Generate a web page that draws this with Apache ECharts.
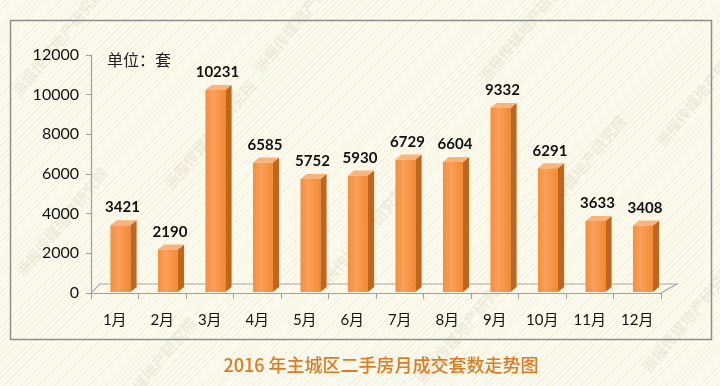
<!DOCTYPE html>
<html><head><meta charset="utf-8">
<script src="https://cdn.jsdelivr.net/npm/echarts@6/dist/echarts.min.js"></script>
<style>
html,body{margin:0;padding:0;width:720px;height:386px;overflow:hidden;
background:#fdfbee repeating-linear-gradient(135deg,#fdfbee 0px,#fdfbee 3px,#f4f1de 3px,#f4f1de 4px);}
#c{width:720px;height:386px;}
</style></head><body><div id="c"></div>
<script>
const categories = ['1月','2月','3月','4月','5月','6月','7月','8月','9月','10月','11月','12月'];
const values = [3421, 2190, 10231, 6585, 5752, 5930, 6729, 6604, 9332, 6291, 3633, 3408];
const yTicks = [0, 2000, 4000, 6000, 8000, 10000, 12000];
const titleText = '2016 年主城区二手房月成交套数走势图';
const unitText = '单位：套';
const watermarkText = '浙报传媒地产研究院';

const chart = echarts.init(document.getElementById('c'), null, {renderer:'canvas'});

const wmPos = [[58,42],[62,222],[210,135],[300,18],[525,28],[702,92],[360,240],[462,330],[688,318],[150,372],[580,170]];
const watermarks = wmPos.map(p => ({
  type:'text', x:p[0], y:p[1], rotation: Math.PI/4 + 0.1, z:0,
  style:{text:watermarkText, fill:'rgba(190,185,170,0.22)', font:'bold 15px "Noto Sans CJK SC"', align:'center', verticalAlign:'middle'}
}));

function renderBar(params, api){
  const i = api.value(0), v = api.value(1);
  const top = api.coord([i, v]);
  const base = api.coord([i, 0]);
  const bw = api.size([1,0])[0];
  const x0 = top[0] - 0.09*bw, w = 0.42*bw, dx = 0.13*bw, dy = 5;
  const y0 = top[1], y1 = base[1] - 1;
  return {type:'group', children:[
    {type:'rect', shape:{x:x0, y:y0, width:w, height:y1-y0},
     style:{fill:new echarts.graphic.LinearGradient(0,0,1,0,[{offset:0,color:'#f58f3a'},{offset:0.4,color:'#f9a05a'},{offset:1,color:'#f48a30'}])}},
    {type:'polygon', shape:{points:[[x0+w,y0],[x0+w+dx,y0-dy],[x0+w+dx,y1-dy],[x0+w,y1]]},
     style:{fill:'#bf661c'}},
    {type:'polygon', shape:{points:[[x0,y0],[x0+dx,y0-dy],[x0+w+dx,y0-dy],[x0+w,y0]]},
     style:{fill:'#f9b47c'}},
    {type:'text', x:x0+w/2+2, y:y0-dy-5,
     style:{text:String(values[i]), font:'bold 15px Lato, "DejaVu Sans"', fill:'#111', align:'center', verticalAlign:'bottom'}}
  ]};
}

chart.setOption({
  animation:false,
  backgroundColor:'transparent',
  grid:{left:91, right:59, top:55, bottom:93, containLabel:false},
  xAxis:{type:'category', data:categories, boundaryGap:true,
    axisLine:{show:true, lineStyle:{color:'#a0a0a0', width:1.2}},
    axisTick:{show:true, length:6, lineStyle:{color:'#a0a0a0'}},
    axisLabel:{margin:20, fontSize:15, color:'#111', fontFamily:'Lato, "Noto Sans CJK SC"'}},
  yAxis:{type:'value', min:yTicks[0], max:yTicks[yTicks.length-1], interval:yTicks[1]-yTicks[0],
    axisLine:{show:true, lineStyle:{color:'#a0a0a0', width:1.2}},
    axisTick:{show:true, length:5, lineStyle:{color:'#a0a0a0'}},
    splitLine:{show:false},
    axisLabel:{margin:12, fontSize:16, color:'#111', fontFamily:'Lato, "DejaVu Sans"', formatter:v=>String(v)}},
  graphic:[
    ...watermarks,
    {type:'rect', shape:{x:10.5, y:20.5, width:701, height:319}, style:{fill:'none', stroke:'#8e8e8e', lineWidth:1.5}, z:1},
    {type:'polyline', shape:{points:[[91,293],[100,284],[677,284],[661,293]]}, style:{fill:'none', stroke:'#a8a8a8', lineWidth:1.2}, z:1},
    {type:'text', x:107, y:60, style:{text:unitText, font:'16px "Noto Sans CJK SC"', fill:'#222', verticalAlign:'middle'}, z:5},
    {type:'text', x:381, y:365, style:{text:titleText, font:'500 18px "Noto Sans CJK SC"', fill:'#e07a22', align:'center', verticalAlign:'middle'}, z:5}
  ],
  series:[{type:'custom', renderItem:renderBar, data:values.map((v,i)=>[i,v]), z:3}]
});
</script></body></html>
